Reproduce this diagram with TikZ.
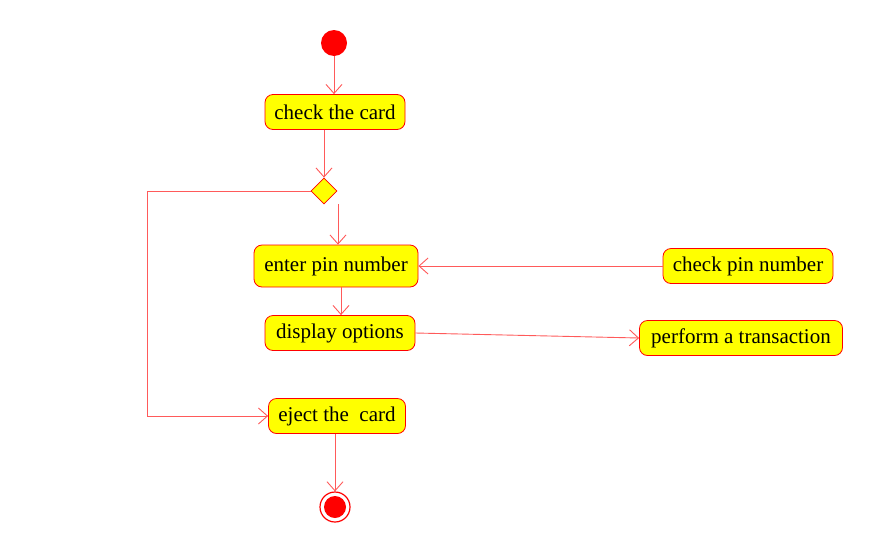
\documentclass[tikz,border=0pt]{standalone}
\usepackage{fontspec}
\setmainfont{Liberation Serif}
\usetikzlibrary{arrows.meta,shapes.geometric}
\definecolor{umlred}{RGB}{255,0,0}
\definecolor{umlline}{RGB}{255,90,90}
\definecolor{umlyellow}{RGB}{255,255,0}
\tikzset{
  activity/.style={draw=umlred, fill=umlyellow, rounded corners=8pt, line width=0.8pt,
    minimum height=35pt, inner xsep=6pt, font=\fontsize{21}{23}\selectfont},
  flow/.style={draw=umlline, line width=0.9pt, -{Straight Barb[length=9pt,width=16pt]}},
  link/.style={draw=umlline, line width=0.9pt}
}
\begin{document}
\begin{tikzpicture}[x=1pt,y=-1pt]
    \useasboundingbox (0,0) rectangle (874,544);
    \newcommand{\rad}{13}

    \node[circle, fill=umlred, minimum size=2*\rad pt, inner sep=0pt] (start) at (334,43) {};
    \node[activity, minimum width=140pt] (check) at (335,112) {check the card};
    \node[diamond, draw=umlred, fill=umlyellow, minimum size=26pt, inner sep=0pt, line width=0.8pt] (choice) at (324,191) {};
    \node[activity, minimum width=164pt, minimum height=42pt] (pin) at (336,266) {enter pin number};
    \node[activity, minimum width=170pt] (verify) at (748,266) {check pin number};
    \node[activity, minimum width=150pt] (menu) at (340,333) {display options};
    \node[activity, minimum width=203pt] (trans) at (741,338) {perform a transaction};
    \node[activity, minimum width=137pt] (eject) at (337,416) {eject the\ \ card};
    \node[circle, draw=umlred, line width=1.2pt, minimum size=30pt, inner sep=0pt] (stop) at (335,507) {};
    \node[circle, fill=umlred, minimum size=22pt, inner sep=0pt] at (stop) {};

    \coordinate (split) at (338,204);
    \coordinate (corner) at (147,191);

    \draw[flow] (start) -- (start |- check.north);
    \draw[flow] (check.south -| choice) -- (choice.north);
    \draw[flow] (split) -- (split |- pin.north);
    \draw[flow] (verify) -- (pin);
    \draw[flow] (pin.south -| 341,0) -- (341,0 |- menu.north);
    \draw[flow] (menu.east) -- (trans.west);
    \draw[link] (choice.west) -- (corner);
    \draw[flow] (corner) |- (eject.west);
    \draw[flow] (eject.south -| stop) -- (stop.north);
\end{tikzpicture}
\end{document}
